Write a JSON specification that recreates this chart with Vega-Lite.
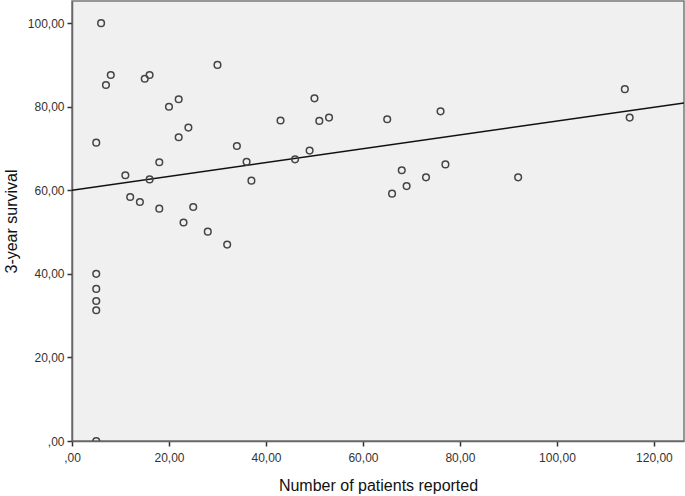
{
  "$schema": "https://vega.github.io/schema/vega-lite/v6.json",
  "width": 612,
  "height": 440,
  "autosize": {"type": "none"},
  "padding": {"left": 72, "top": 1, "right": 1, "bottom": 55},
  "background": "white",
  "config": {
    "view": {"fill": "#f0f0f0", "stroke": "#777777", "strokeWidth": 1.5},
    "axis": {
      "grid": false,
      "labelFont": "Liberation Sans",
      "labelFontSize": 12,
      "labelColor": "#333333",
      "titleFont": "Liberation Sans",
      "titleFontWeight": "normal",
      "titleColor": "#111111",
      "domainColor": "#666666",
      "domainWidth": 1.5,
      "tickColor": "#333333",
      "tickWidth": 1.5,
      "tickSize": 5
    }
  },
  "datasets": {
    "points": [
      {"patients": 6, "survival": 100.0},
      {"patients": 8, "survival": 87.6},
      {"patients": 7, "survival": 85.2},
      {"patients": 16, "survival": 87.6},
      {"patients": 15, "survival": 86.7},
      {"patients": 22, "survival": 81.8},
      {"patients": 20, "survival": 80.0},
      {"patients": 24, "survival": 75.0},
      {"patients": 22, "survival": 72.7},
      {"patients": 5, "survival": 71.4},
      {"patients": 18, "survival": 66.7},
      {"patients": 11, "survival": 63.6},
      {"patients": 16, "survival": 62.6},
      {"patients": 12, "survival": 58.4},
      {"patients": 14, "survival": 57.2},
      {"patients": 18, "survival": 55.6},
      {"patients": 25, "survival": 56.0},
      {"patients": 23, "survival": 52.3},
      {"patients": 28, "survival": 50.1},
      {"patients": 5, "survival": 40.0},
      {"patients": 5, "survival": 36.4},
      {"patients": 5, "survival": 33.5},
      {"patients": 5, "survival": 31.3},
      {"patients": 5, "survival": 0.0},
      {"patients": 30, "survival": 90.0},
      {"patients": 50, "survival": 82.0},
      {"patients": 43, "survival": 76.7},
      {"patients": 51, "survival": 76.6},
      {"patients": 53, "survival": 77.4},
      {"patients": 34, "survival": 70.6},
      {"patients": 36, "survival": 66.8},
      {"patients": 46, "survival": 67.4},
      {"patients": 49, "survival": 69.5},
      {"patients": 37, "survival": 62.3},
      {"patients": 32, "survival": 47.0},
      {"patients": 65, "survival": 77.0},
      {"patients": 76, "survival": 78.9},
      {"patients": 68, "survival": 64.8},
      {"patients": 77, "survival": 66.2},
      {"patients": 73, "survival": 63.1},
      {"patients": 69, "survival": 61.0},
      {"patients": 66, "survival": 59.2},
      {"patients": 92, "survival": 63.1},
      {"patients": 114, "survival": 84.2},
      {"patients": 115, "survival": 77.4}
    ],
    "fit": [
      {"patients": 0, "survival": 60.0},
      {"patients": 126.2, "survival": 80.9}
    ]
  },
  "layer": [
    {
      "data": {"name": "fit"},
      "mark": {"type": "line", "color": "#111111", "strokeWidth": 1.5, "clip": true},
      "encoding": {
        "x": {"field": "patients", "type": "quantitative"},
        "y": {"field": "survival", "type": "quantitative"}
      }
    },
    {
      "data": {"name": "points"},
      "mark": {"type": "point", "filled": false, "stroke": "#444444", "strokeWidth": 1.5, "size": 44, "opacity": 1, "clip": true},
      "encoding": {
        "x": {
          "field": "patients",
          "type": "quantitative",
          "scale": {"domain": [0, 126.2], "nice": false, "zero": false},
          "axis": {
            "title": "Number of patients reported",
            "titleFontSize": 16,
            "titlePadding": 14,
            "values": [0, 20, 40, 60, 80, 100, 120],
            "labelPadding": 6,
            "labelFlush": false,
            "labelExpr": "datum.value == 0 ? ',00' : replace(format(datum.value, '.2f'), '.', ',')"
          }
        },
        "y": {
          "field": "survival",
          "type": "quantitative",
          "scale": {"domain": [0, 105.3], "nice": false, "zero": false},
          "axis": {
            "title": "3-year survival",
            "titleFontSize": 16,
            "titlePadding": 8,
            "values": [0, 20, 40, 60, 80, 100],
            "labelPadding": 3,
            "labelFlush": false,
            "labelExpr": "datum.value == 0 ? ',00' : replace(format(datum.value, '.2f'), '.', ',')"
          }
        }
      }
    }
  ]
}
